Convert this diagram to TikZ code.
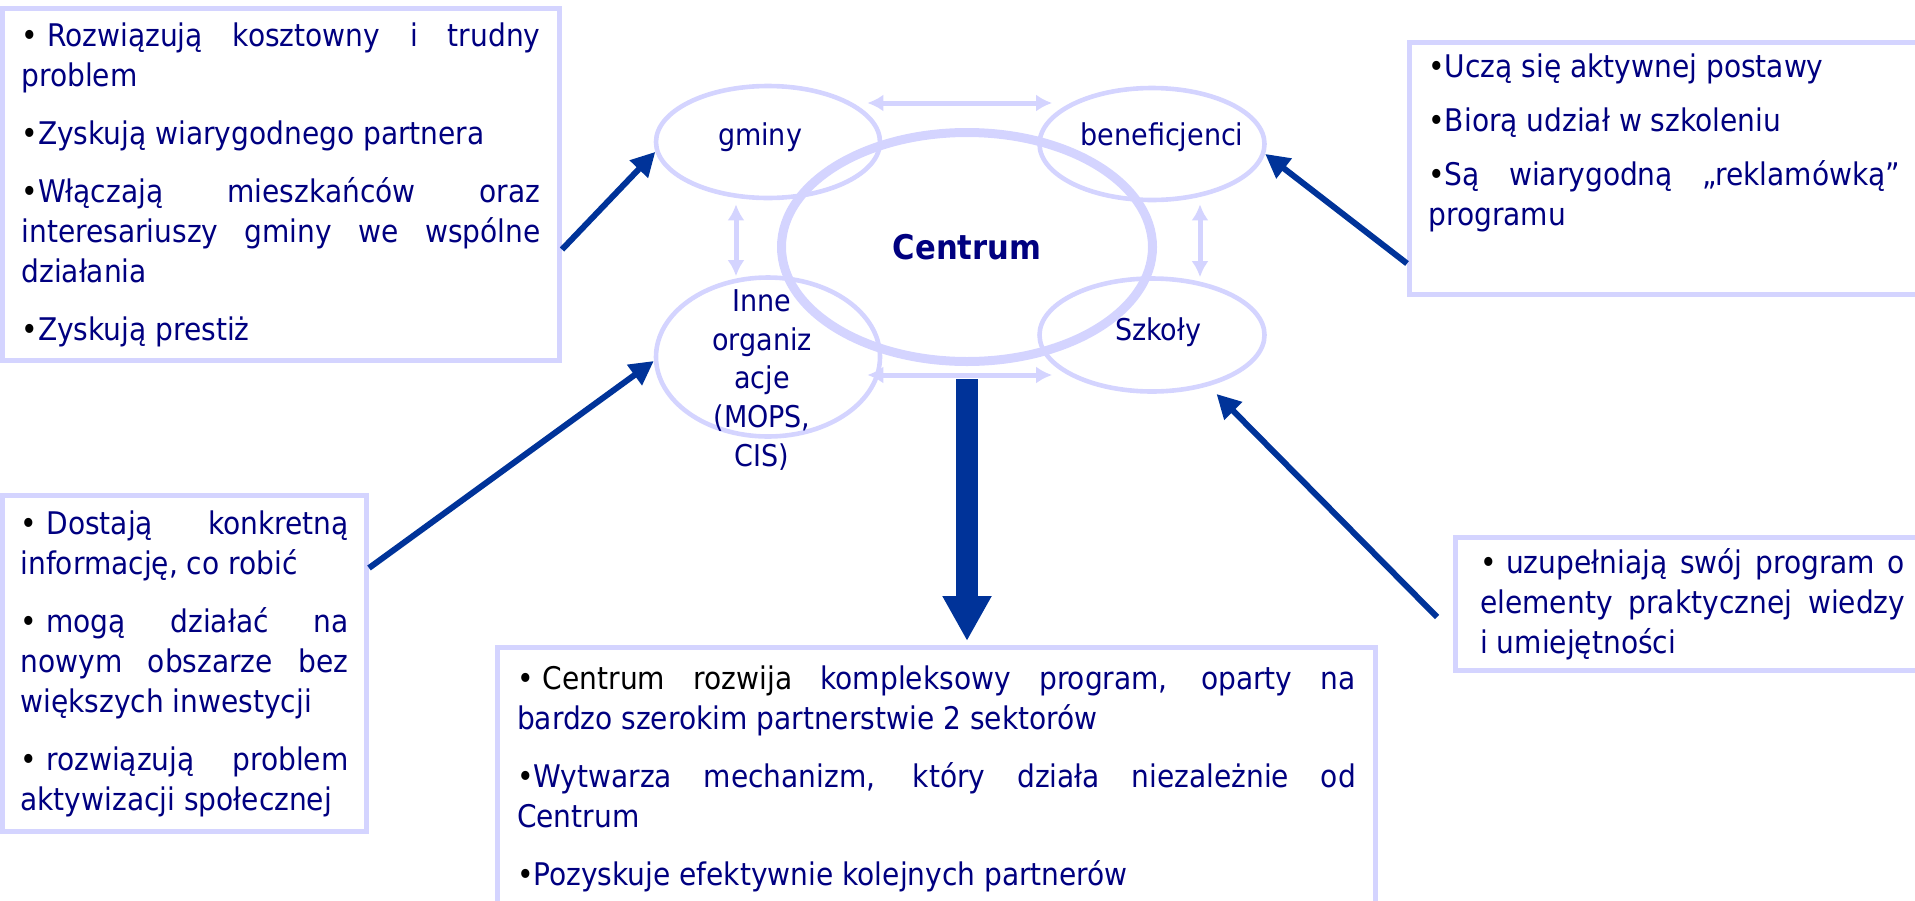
\documentclass[tikz,border=0pt]{standalone}
\usepackage{fontspec}
\setmainfont{DejaVu Sans Condensed}
\usepackage{tikz}
\usetikzlibrary{shapes.geometric, arrows.meta, calc, positioning}
\definecolor{lav}{RGB}{212,212,255}
\definecolor{navy}{RGB}{0,0,128}
\definecolor{arrowblue}{RGB}{0,51,153}
\newcommand{\blt}{{\color{black}•}}
\newcommand{\bltsp}{{\color{black}•}\hspace{0.3em}}
\tikzstyle{frame} = [rectangle, draw=lav, line width=2.5pt, inner sep=0pt]
\tikzstyle{boxtext} = [align=justify, text=navy, inner sep=0pt, font=\fontsize{15.6pt}{20pt}\selectfont\setlength{\parskip}{9pt}\setlength{\parindent}{0pt}]
\tikzstyle{group} = [ellipse, draw=lav, line width=2.3pt, inner sep=0pt]
\tikzstyle{grouptext} = [text=navy, inner sep=0pt, font=\fontsize{15pt}{19.4pt}\selectfont]
\tikzstyle{arrow} = [line width=3pt, arrowblue, -{Triangle[length=12pt, width=12pt]}]
\tikzstyle{bigarrow} = [line width=11pt, arrowblue, -{Triangle[length=22.5pt, width=23pt]}]
\tikzstyle{duo} = [line width=2.5pt, lav, {Latex[length=8pt, width=8.5pt]}-{Latex[length=8pt, width=8.5pt]}]

\begin{document}
\begin{tikzpicture}[x=0.5pt, y=-0.5pt]
	\useasboundingbox (0,0) rectangle (1915,900);
	\clip (0,0) rectangle (1915,900);
	\node (Gminy) [group, minimum width=112pt, minimum height=56pt] at (768,142) {};
	\node (Beneficjenci) [group, minimum width=112.5pt, minimum height=56pt] at (1152,144) {};
	\node (Inne) [group, minimum width=112pt, minimum height=79.5pt] at (768,357) {};
	\node (Szkoly) [group, minimum width=112.5pt, minimum height=56.5pt] at (1152,335) {};
	\node (Centrum) [ellipse, draw=lav, line width=4.5pt, inner sep=0pt, minimum width=185.5pt, minimum height=114.5pt, text=navy, font=\fontsize{17pt}{20pt}\selectfont\bfseries] at (967,247) {Centrum};
	\node (GminyText) [grouptext] at (760,137) {gminy};
	\node (BeneficjenciText) [grouptext] at (1162,137) {beneficjenci};
	\node (SzkolyText) [grouptext] at (1158,332) {Szkoły};
	\node (InneText) [grouptext, align=center] at (762,380) {Inne\\organiz\\acje\\(MOPS,\\CIS)};
	\draw [duo] ($(Gminy.east)+(-15,-39)$) -- ($(Beneficjenci.west)+(15,-41)$);
	\draw [duo] ($(Inne.east)+(-15,18)$) -- ($(Szkoly.west)+(15,40)$);
	\draw [duo] ($(Gminy.south)+(-32,4)$) -- ($(Inne.north)+(-32,1)$);
	\draw [duo] ($(Beneficjenci.south)+(48,2)$) -- ($(Szkoly.north)+(48,1)$);
	\node (BoxGminy) [frame, boxtext, text width=259.5pt, minimum width=278.5pt, minimum height=176pt] at (281,184.5) {
		\bltsp Rozwiązują kosztowny i trudny\linebreak problem\par
		\blt Zyskują wiarygodnego partnera\par
		\blt Włączają mieszkańców oraz\linebreak interesariuszy gminy we wspólne\linebreak działania\par
		\blt Zyskują prestiż};
	\node (BoxBeneficjenci) [frame, minimum width=260.25pt, minimum height=126pt] at (1669.75,168.5) {};
	\node (BeneficjenciList) [boxtext, text width=236pt, anchor=north west] at (1428,53) {%
		\setlength{\parskip}{7pt}%
		\blt Uczą się aktywnej postawy\par
		\blt Biorą udział w szkoleniu\par
		\blt Są wiarygodną „reklamówką”\linebreak programu};
	\node (BoxInne) [frame, boxtext, text width=164pt, minimum width=182pt, minimum height=168pt] at (184.5,663.5) {
		\bltsp Dostają konkretną\linebreak informację, co robić\par
		\bltsp mogą działać na\linebreak nowym obszarze bez\linebreak większych inwestycji\par
		\bltsp rozwiązują problem\linebreak aktywizacji społecznej};
	\node (BoxSzkoly) [frame, boxtext, text width=212.5pt, minimum width=237.25pt, minimum height=66.5pt] at (1692.75,604) {
		\bltsp uzupełniają swój program o\linebreak elementy praktycznej wiedzy\linebreak i umiejętności};
	\node (BoxCentrum) [frame, boxtext, text width=419.5pt, minimum width=439pt, minimum height=131.25pt] at (936.5,778.75) {
		{\color{black}\bltsp Centrum rozwija} kompleksowy program, oparty na\linebreak bardzo szerokim partnerstwie 2 sektorów\par
		\blt Wytwarza mechanizm, który działa niezależnie od\linebreak Centrum\par
		\blt Pozyskuje efektywnie kolejnych partnerów};
	\draw [arrow] ($(BoxGminy.east)+(0,65)$) -- (Gminy.185);
	\draw [arrow] ($(BoxInne.east)+(0,-95.5)$) -- (Inne.182);
	\draw [arrow] ($(BoxBeneficjenci.west)+(0,95)$) -- (Beneficjenci.-5);
	\draw [arrow, shorten >=5.5pt] ($(BoxSzkoly.west)+(-16,13)$) -- (Szkoly.-42);
	\draw [bigarrow, shorten >=2pt] ($(Centrum.south)+(0,13)$) -- (Centrum.south |- BoxCentrum.north);
\end{tikzpicture}
\end{document}
